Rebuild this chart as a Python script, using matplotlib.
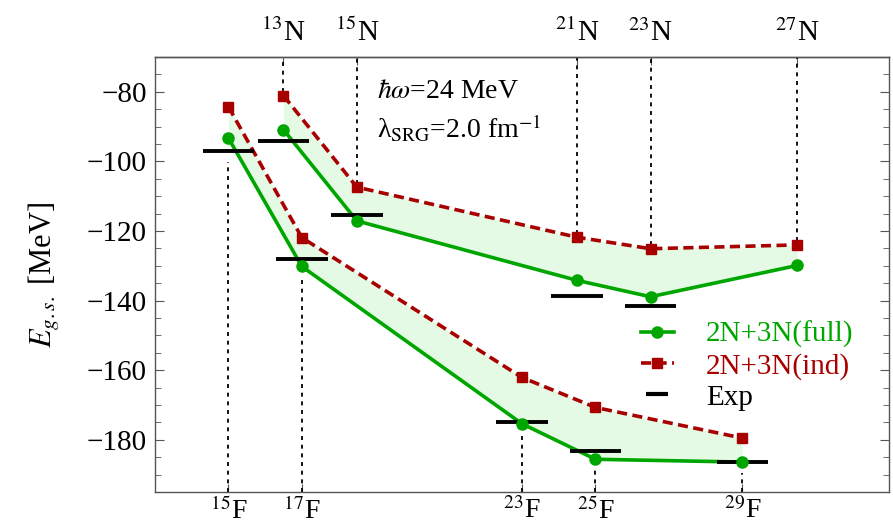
import numpy as np
import matplotlib
matplotlib.use('Agg')
import matplotlib.pyplot as plt
from matplotlib.lines import Line2D
from matplotlib.ticker import MultipleLocator

plt.rcParams['font.family'] = ['Liberation Serif', 'DejaVu Serif']
plt.rcParams['mathtext.fontset'] = 'stix'

# fluorine chain (bottom axis)
f_mass = [15, 17, 23, 25, 29]
f_full = [-93.3, -130.2, -175.4, -185.6, -186.4]
f_ind = [-84.3, -121.9, -162.1, -170.7, -179.5]
f_exp = [-97.1, -128.1, -175.0, -183.2, -186.4]

# nitrogen chain (top axis)
n_mass = [13, 15, 21, 23, 27]
n_full = [-90.9, -117.1, -134.2, -138.9, -129.9]
n_ind = [-81.1, -107.4, -121.8, -125.1, -124.0]
n_exp = [-94.1, -115.4, -138.7, -141.6, np.nan]

labels = ['2N+3N(full)', '2N+3N(ind)', 'Exp']

N_SHIFT = 3.5  # nitrogen isotopes drawn shifted right
GREEN = '#00a600'
RED = '#a80000'
FILL = '#e4fae4'
FRAME = '#555555'
YLIM = (-195, -70)
DASH = (0, (2.8, 1.5))

fig = plt.figure(figsize=(8.93, 5.32), dpi=100)
ax = fig.add_axes([0.1736, 0.0752, 0.8220, 0.8177])

f_x = np.array(f_mass, dtype=float)
n_x = np.array(n_mass, dtype=float) + N_SHIFT

for xs, full, ind, exp in [(f_x, f_full, f_ind, f_exp), (n_x, n_full, n_ind, n_exp)]:
    full = np.array(full); ind = np.array(ind); exp = np.array(exp)
    ax.fill_between(xs, full, ind, color=FILL, lw=0, zorder=1)
    ax.plot(xs, full, color=GREEN, lw=2.6, zorder=3)
    ax.plot(xs, ind, color=RED, lw=2.6, ls=DASH, zorder=3)
    ok = ~np.isnan(exp)
    ax.hlines(exp[ok], xs[ok] - 0.7, xs[ok] + 0.7, color='k', lw=2.8, zorder=4)
    ax.plot(xs, full, 'o', color=GREEN, ms=8, zorder=5)
    ax.plot(xs, ind, 's', color=RED, ms=7.5, zorder=5)

# dotted guides to the isotope labels
lo_f = np.nanmin([f_full, f_ind, f_exp], axis=0)
ax.vlines(f_x, YLIM[0], lo_f - 3, color='k', lw=1.3, ls=(0, (2.2, 2.6)), zorder=2)
hi_n = np.nanmax([n_full, n_ind, n_exp], axis=0)
ax.vlines(n_x, hi_n + 1, YLIM[1], color='k', lw=1.3, ls=(0, (2.2, 2.6)), zorder=2)

ax.set_xlim(13, 33)
ax.set_ylim(*YLIM)

ax.set_xticks(f_x, labels=[f'$^{{{a}}}$F' for a in f_mass])
ax.yaxis.set_major_locator(MultipleLocator(20))
ax.yaxis.set_minor_locator(MultipleLocator(5))
ax.tick_params(axis='y', which='both', direction='in', left=True, right=True,
               labelsize=21, color=FRAME, pad=6)
ax.tick_params(axis='y', which='major', length=6.5)
ax.tick_params(axis='y', which='minor', length=4)
ax.tick_params(axis='x', direction='in', length=6, labelsize=20, pad=4, color=FRAME)

sec = ax.secondary_xaxis('top')
sec.set_xticks(n_x, labels=[f'$^{{{a}}}$N' for a in n_mass])
sec.tick_params(direction='in', length=6, labelsize=21, pad=7, color=FRAME)

for s in list(ax.spines.values()) + list(sec.spines.values()):
    s.set_color(FRAME)
    s.set_linewidth(1.0)

ax.set_ylabel(r'$E_{g.s.}$ [MeV]', fontsize=22, labelpad=18)

ax.text(0.302, 0.92, r'$\hbar\omega$=24 MeV', transform=ax.transAxes,
        fontsize=20, va='center')
ax.text(0.302, 0.835, r'λ$_{\rm SRG}$=2.0 fm$^{-1}$', transform=ax.transAxes,
        fontsize=20, va='center')

handles = [
    Line2D([], [], color=GREEN, lw=2.6, marker='o', ms=8),
    Line2D([], [], color=RED, lw=2.6, ls=DASH, marker='s', ms=7.5),
    Line2D([], [], color='k', ls='none', marker='_', ms=16, mew=3),
]
leg = ax.legend(handles, labels, loc='center left', bbox_to_anchor=(0.662, 0.29),
                frameon=False, fontsize=21, handlelength=1.12, handletextpad=1.1,
                labelspacing=0.15, borderpad=0, borderaxespad=0)
for t, c in zip(leg.get_texts(), [GREEN, RED, 'k']):
    t.set_color(c)

fig.savefig('out.png', dpi=100)
